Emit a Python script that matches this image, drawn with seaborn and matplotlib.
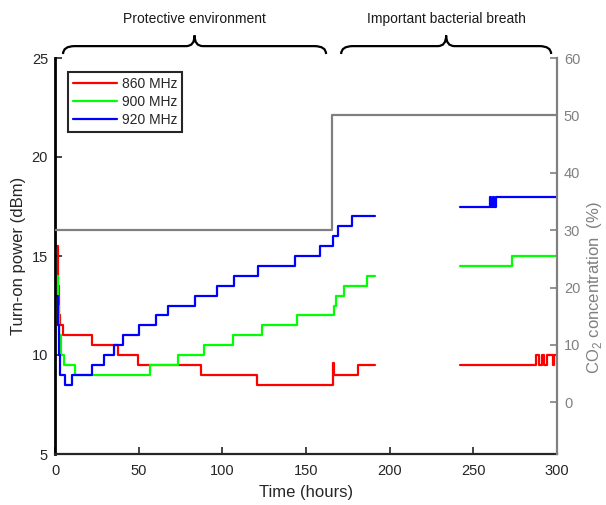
import matplotlib
matplotlib.use('Agg')
import matplotlib.pyplot as plt
import matplotlib.transforms as mtransforms
from matplotlib.path import Path
from matplotlib.patches import PathPatch
from matplotlib.lines import Line2D
import seaborn as sns
import pandas as pd

# Turn-on power (dBm), read as step changes: value holds from t[i] to t[i+1]
# first run (0 - 191 h)
red_t1 = [1.0, 1.6, 2.2, 3.2, 5.0, 21.9, 37.8, 49.7, 87.0, 120.6, 166.0, 166.6, 181.0, 191.0]
red_p1 = [15.5, 13.5, 12.0, 11.5, 11.0, 10.5, 10.0, 9.5, 9.0, 8.5, 9.6, 9.0, 9.5, 9.5]
green_t1 = [1.0, 1.8, 2.6, 3.6, 5.2, 12.1, 56.7, 73.6, 89.3, 106.2, 124.0, 144.9, 166.6, 168.2, 173.0, 186.7, 191.0]
green_p1 = [14.0, 12.5, 11.0, 10.0, 9.5, 9.0, 9.5, 10.0, 10.5, 11.0, 11.5, 12.0, 12.5, 13.0, 13.5, 14.0, 14.0]
blue_t1 = [1.0, 1.6, 2.2, 2.8, 6.0, 10.0, 21.9, 29.3, 35.3, 40.9, 50.0, 60.3, 67.7, 83.6, 97.1, 106.8,
           121.4, 143.3, 158.2, 166.2, 169.1, 177.3, 191.0]
blue_p1 = [13.0, 11.5, 10.0, 9.0, 8.5, 9.0, 9.5, 10.0, 10.5, 11.0, 11.5, 12.0, 12.5, 13.0, 13.5, 14.0,
           14.5, 15.0, 15.5, 16.0, 16.5, 17.0, 17.0]
# second run (242 - 300 h)
red_t2 = [241.8, 287.5, 289.0, 291.0, 292.5, 294.0, 297.5, 298.3, 300.0]
red_p2 = [9.5, 10.0, 9.5, 10.0, 9.5, 10.0, 9.5, 10.0, 10.0]
green_t2 = [241.8, 273.3, 300.0]
green_p2 = [14.5, 15.0, 15.0]
blue_t2 = [241.8, 259.7, 260.5, 261.5, 262.3, 263.5, 300.0]
blue_p2 = [17.5, 18.0, 17.5, 18.0, 17.5, 18.0, 18.0]

# CO2 concentration (%)
co2_t = [0, 165.5, 300]
co2_p = [30, 50, 50]

bands = ['860 MHz', '900 MHz', '920 MHz']
bandColours = ['#ff0000', '#00ff00', '#0000ff']
greyColour = '#808080'

sns.set_theme(style='ticks')
plt.rcParams['font.family'] = ['Liberation Sans', 'DejaVu Sans']

fig = plt.figure(figsize=(6.06, 5.05), dpi=100)
ax = fig.add_axes([55/606, 1-454/505, 502/606, 396/505])
ax2 = ax.twinx()

runs = [(red_t1, red_p1, red_t2, red_p2), (green_t1, green_p1, green_t2, green_p2),
        (blue_t1, blue_p1, blue_t2, blue_p2)]
for (t1, p1, t2, p2), colour in zip(runs, bandColours):
    for t, p in [(t1, p1), (t2, p2)]:
        df = pd.DataFrame({'t': t, 'p': p})
        sns.lineplot(data=df, x='t', y='p', ax=ax, color=colour, lw=1.6, estimator=None,
                     drawstyle='steps-post', legend=False)

co2 = pd.DataFrame({'t': co2_t, 'c': co2_p})
sns.lineplot(data=co2, x='t', y='c', ax=ax2, color=greyColour, lw=1.6, estimator=None,
             drawstyle='steps-post', legend=False)

ax.set_xlim(0, 300)
ax.set_ylim(5, 25)
ax.set_xticks(range(0, 301, 50))
ax.set_yticks(range(5, 26, 5))
ax2.set_ylim(-9, 60)
ax2.set_yticks(range(0, 61, 10))

ax.set_xlabel('Time (hours)', fontsize=12, labelpad=5)
ax.set_ylabel('Turn-on power (dBm)', fontsize=12, labelpad=4)
ax2.set_ylabel(r'CO$_{\mathregular{2}}$ concentration  (%)', fontsize=12, color=greyColour)
ax2.yaxis.set_label_coords(1.056, 0.42)

ax.tick_params(direction='in', length=5, width=1.2, labelsize=10.5, colors='#262626')
ax.tick_params(axis='x', pad=7)
ax.tick_params(axis='y', pad=5)
ax2.tick_params(axis='y', direction='in', length=5, width=1.2, labelsize=10.5, colors=greyColour, pad=5)

for a in (ax, ax2):
    a.spines['top'].set_visible(False)
ax.spines['right'].set_visible(False)
ax.spines['left'].set_color('black')
ax.spines['left'].set_linewidth(2)
ax.spines['bottom'].set_color('#262626')
ax.spines['bottom'].set_linewidth(1.6)
ax2.spines['left'].set_visible(False)
ax2.spines['bottom'].set_visible(False)
ax2.spines['right'].set_color(greyColour)
ax2.spines['right'].set_linewidth(1.6)

handles = [Line2D([], [], color=c, lw=1.6) for c in bandColours]
leg = ax2.legend(handles, bands, loc='upper left', bbox_to_anchor=(0.026, 0.965), frameon=True,
                 fancybox=False, edgecolor='#262626', framealpha=1, fontsize=10, handlelength=3.2,
                 labelspacing=0.3, borderpad=0.35, handletextpad=0.3, borderaxespad=0)
leg.get_frame().set_linewidth(1.5)

# curly braces over the two periods
trans = mtransforms.blended_transform_factory(ax.transData, ax.transAxes)

def drawBrace(x0, x1, text):
    xm = (x0 + x1) / 2
    r, rt = 7, 5
    yb, yh, yt = 1.01, 1.03, 1.057
    verts = [(x0, yb), (x0, yh), (x0 + r, yh), (xm - rt, yh), (xm, yh), (xm, yt),
             (xm, yh), (xm + rt, yh), (x1 - r, yh), (x1, yh), (x1, yb)]
    codes = [Path.MOVETO, Path.CURVE3, Path.CURVE3, Path.LINETO, Path.CURVE3, Path.CURVE3,
             Path.CURVE3, Path.CURVE3, Path.LINETO, Path.CURVE3, Path.CURVE3]
    ax.add_patch(PathPatch(Path(verts, codes), transform=trans, fill=False, lw=1.6,
                           edgecolor='black', clip_on=False))
    ax.text(xm, 1.098, text, transform=trans, ha='center', va='center', fontsize=10, color='#1a1a1a')

drawBrace(4.8, 162.0, 'Protective environment')
drawBrace(171.0, 296.5, 'Important bacterial breath')

fig.savefig('out.png', dpi=100)
